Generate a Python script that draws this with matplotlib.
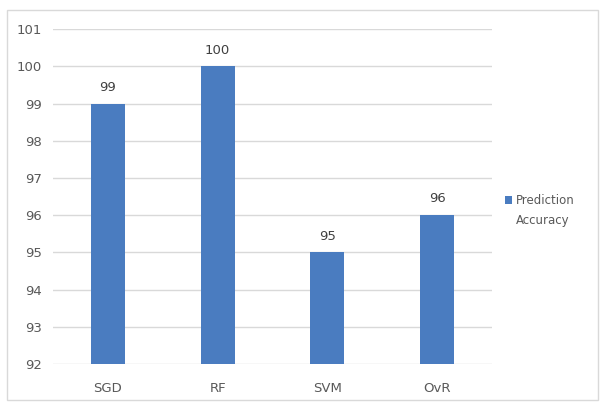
import matplotlib
matplotlib.use("Agg")
import matplotlib.pyplot as plt
from matplotlib.patches import Rectangle

categories = ["SGD", "RF", "SVM", "OvR"]
accuracy = [99, 100, 95, 96]
series_name = "Prediction\nAccuracy"
yticks = [92, 93, 94, 95, 96, 97, 98, 99, 100, 101]

plt.rcParams['font.family'] = ['DejaVu Sans']
bar_color = "#4a7cc0"
text_color = "#595959"

fig = plt.figure(figsize=(6.01, 4.04), dpi=100)
fig.patch.set_facecolor("white")
fig.add_artist(Rectangle((0.012, 0.010), 0.983, 0.965, transform=fig.transFigure,
                         fill=False, edgecolor="#d9d9d9", linewidth=1.0))
ax = fig.add_axes([0.088, 0.099, 0.731, 0.829])
x = list(range(len(categories)))
bars = ax.bar(x, [a - 92 for a in accuracy], bottom=92, width=0.31, color=bar_color,
              label=series_name, zorder=3)
ax.set_xlim(-0.5, len(categories) - 0.5)
ax.set_ylim(92, 101)
ax.set_yticks(yticks)
ax.set_yticklabels([str(t) for t in yticks], color=text_color, fontsize=9.5)
ax.set_xticks(x)
ax.set_xticklabels(categories, color=text_color, fontsize=9.5)
ax.tick_params(axis='x', length=0, pad=13)
ax.tick_params(axis='y', length=0, pad=8)
ax.grid(axis='y', color="#d9d9d9", linewidth=1.0, zorder=0)
for s in ax.spines.values():
    s.set_visible(False)
for xi, a in zip(x, accuracy):
    ax.annotate(str(a), (xi, a), xytext=(0, 7), textcoords="offset points",
                ha="center", va="bottom", fontsize=9.5, color="#404040")

# legend (square aligned with first line of the two-line label)
lx, ly = 505 / 601, 1 - 200 / 404
sq = 7 / 601
fig.add_artist(Rectangle((lx, ly - 4 / 404), sq, 8 / 404, transform=fig.transFigure,
                         facecolor=bar_color, edgecolor="none"))
fig.text(516 / 601, ly, "Prediction", transform=fig.transFigure, ha="left", va="center",
         fontsize=8.5, color=text_color)
fig.text(516 / 601, 1 - 220 / 404, "Accuracy", transform=fig.transFigure, ha="left",
         va="center", fontsize=8.5, color=text_color)
fig.savefig("out.png", dpi=100)
